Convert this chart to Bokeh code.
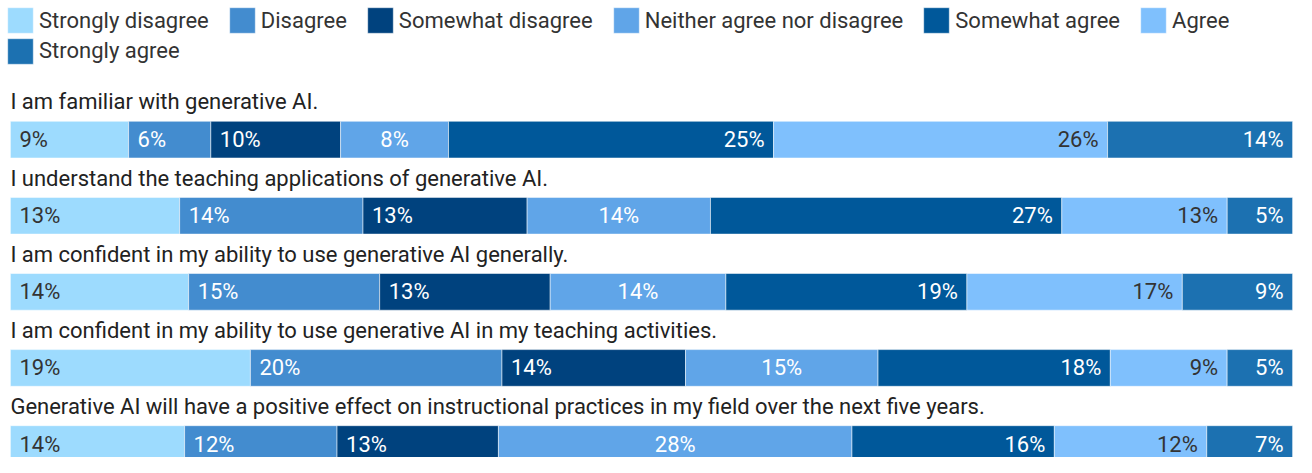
from bokeh.plotting import figure
from bokeh.models import Range1d, ColumnDataSource, Legend, LegendItem
from bokeh.core.properties import value
from bokeh.embed import file_html
from bokeh.resources import INLINE

categories = ["Strongly disagree", "Disagree", "Somewhat disagree",
              "Neither agree nor disagree", "Somewhat agree", "Agree", "Strongly agree"]
colors = ["#9ddbfe", "#438ccf", "#00427e", "#60a5e8", "#00589a", "#7fc0fd", "#1c71b1"]

statements = [
    "I am familiar with generative AI.",
    "I understand the teaching applications of generative AI.",
    "I am confident in my ability to use generative AI generally.",
    "I am confident in my ability to use generative AI in my teaching activities.",
    "Generative AI will have a positive effect on instructional practices in my field over the next five years.",
]

row1 = [9.2, 6.4, 10.1, 8.4, 25.3, 26.0, 14.4]
row2 = [13.2, 14.3, 12.8, 14.3, 27.4, 12.9, 5.1]
row3 = [13.9, 14.9, 13.3, 13.7, 18.8, 16.8, 8.6]
row4 = [18.7, 19.6, 14.3, 15.0, 18.1, 9.1, 5.1]
row5 = [13.6, 11.9, 12.6, 27.6, 15.8, 11.9, 6.7]
rows = [row1, row2, row3, row4, row5]

# ---- layout (pixels) ----
W, H = 1296, 457
X0_PX, X1_PX = 9.9, 1292.1
PPU = (X1_PX - X0_PX) / 100.0
BAR_H = 36.7
FIRST_TOP = 120.8
STEP = 76.1
FONT = "Roboto"
FS = "22px"
DARK = "#333333"

p = figure(width=W, height=H, output_backend="svg", toolbar_location=None,
           x_range=Range1d(-X0_PX / PPU, 100 + (W - X1_PX) / PPU), y_range=Range1d(H, 0),
           x_axis_type=None, y_axis_type=None, min_border=0)
p.grid.visible = False
p.outline_line_color = None
p.background_fill_color = "white"

tops = [FIRST_TOP + i * STEP for i in range(len(rows))]
centers = [t + BAR_H / 2 for t in tops]

# normalise each row to 100
norm = []
for r in rows:
    s = sum(r)
    norm.append([v / s * 100 for v in r])

renderers = []
for j, cat in enumerate(categories):
    lefts = [sum(n[:j]) for n in norm]
    rights = [sum(n[:j + 1]) for n in norm]
    src = ColumnDataSource(dict(
        y=centers, left=lefts, right=rights,
        mid=[(a + b) / 2 for a, b in zip(lefts, rights)],
        label=[f"{round(r[j])}%" for r in rows],
    ))
    rr = p.hbar(y="y", left="left", right="right", height=BAR_H, source=src,
                fill_color=colors[j], line_color="white", line_width=1, line_alpha=0.5)
    renderers.append(rr)
    tcolor = DARK if j in (0, 5) else "white"
    if j < 3:
        xcol, align, off = "left", "left", 9
    elif j == 3:
        xcol, align, off = "mid", "center", 0
    else:
        xcol, align, off = "right", "right", -9
    p.text(x=xcol, y="y", text="label", source=src, x_offset=off, text_align=align,
           text_baseline="middle", text_color=tcolor,
           text_font=value(FONT), text_font_size=FS)

# statement labels
lab_src = ColumnDataSource(dict(x=[0] * len(statements), y=[t - 19.4 for t in tops], text=statements))
p.text(x="x", y="y", text="text", source=lab_src, text_align="left", text_baseline="middle",
       text_color="#222222", text_font=value(FONT), text_font_size=FS)

GLYPH = 32
def make_legend(items, loc, margin):
    return Legend(items=items, location=loc, orientation="horizontal",
                  glyph_width=GLYPH, glyph_height=GLYPH, label_height=GLYPH, label_standoff=3,
                  spacing=17, padding=0, margin=margin,
                  label_text_font=FONT, label_text_font_size=FS, label_text_color=DARK,
                  border_line_alpha=0, background_fill_alpha=0)

items1 = [LegendItem(label=categories[j], renderers=[renderers[j]]) for j in range(6)]
items2 = [LegendItem(label=categories[6], renderers=[renderers[6]])]
p.add_layout(make_legend(items1, "top_left", 4))
p.add_layout(make_legend(items2, (4, H - 34.5 - GLYPH), 0))

open("out.html", "w").write(file_html(p, INLINE))
